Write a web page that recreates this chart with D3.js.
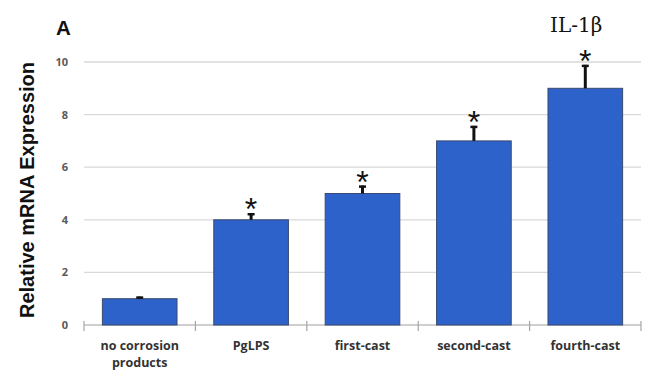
<!DOCTYPE html>
<html><head><meta charset="utf-8">
<script src="https://cdn.jsdelivr.net/npm/d3@7"></script>
<style>body{margin:0;background:#fff}svg{display:block}</style>
</head><body>
<svg id="c" width="648" height="371"></svg>
<script>
const categories = ["no corrosion products", "PgLPS", "first-cast", "second-cast", "fourth-cast"];
const values = [1.0, 4.0, 5.0, 7.0, 9.0];
const errors = [0.08, 0.25, 0.3, 0.57, 0.89];
const significant = [false, true, true, true, true];
const yTicks = [0, 2, 4, 6, 8, 10];

const svg = d3.select("#c");
const x = d3.scaleBand().domain(categories).range([84, 641]).paddingInner(0.33).paddingOuter(0.165);
const y = d3.scaleLinear().domain([0, 10]).range([325, 62]);

// gridlines
svg.append("g").selectAll("line").data(yTicks.filter(d => d > 0)).join("line")
  .attr("x1", 84).attr("x2", 641).attr("y1", d => y(d)).attr("y2", d => y(d))
  .attr("stroke", "#d9d9d9").attr("stroke-width", 1.3);

// y tick labels
svg.append("g").selectAll("text").data(yTicks).join("text")
  .attr("x", 68).attr("y", d => y(d)).attr("dy", "0.36em")
  .attr("text-anchor", "end").attr("fill", "#595959")
  .style("font", "bold 11px 'Open Sans', sans-serif").text(d => d);

// x axis
const xb = d3.scaleBand().domain(categories).range([84, 641]);
const g = svg.append("g").attr("transform", "translate(0,325)");
g.append("line").attr("x1", 84).attr("x2", 641).attr("stroke", "#bfbfbf").attr("stroke-width", 1.3);
const bounds = categories.map(c => xb(c)).concat([641]);
g.selectAll("line.t").data(bounds).join("line").attr("class", "t")
  .attr("x1", d => d).attr("x2", d => d).attr("y1", -4).attr("y2", 6)
  .attr("stroke", "#a6a6a6").attr("stroke-width", 1.2);

// bars
svg.append("g").selectAll("rect").data(values).join("rect")
  .attr("x", (d, i) => x(categories[i])).attr("width", x.bandwidth())
  .attr("y", d => y(d)).attr("height", d => y(0) - y(d))
  .attr("fill", "#2c62c9").attr("stroke", "#3a4a70").attr("stroke-width", 1);

// error bars
const eb = svg.append("g");
values.forEach((v, i) => {
  const cx = x(categories[i]) + x.bandwidth() / 2;
  const top = y(v + errors[i]);
  eb.append("line").attr("x1", cx).attr("x2", cx).attr("y1", y(v)).attr("y2", top)
    .attr("stroke", "#111").attr("stroke-width", 3);
  eb.append("line").attr("x1", cx - 3.5).attr("x2", cx + 3.5).attr("y1", top + 1).attr("y2", top + 1)
    .attr("stroke", "#111").attr("stroke-width", 2.5);
  if (significant[i]) {
    eb.append("text").attr("x", cx).attr("y", top + 7).attr("text-anchor", "middle")
      .attr("fill", "#111").style("font", "32px 'Liberation Sans', Arial, sans-serif").text("*");
  }
});

// x labels
const xl = svg.append("g");
categories.forEach((c, i) => {
  const cx = xb(c) + xb.bandwidth() / 2;
  const lines = c === "no corrosion products" ? ["no corrosion", "products"] : [c];
  lines.forEach((t, j) => {
    xl.append("text").attr("x", cx).attr("y", 350 + j * 17).attr("text-anchor", "middle")
      .attr("fill", "#333").style("font", "bold 12.5px 'Open Sans', sans-serif").text(t);
  });
});

// y axis title
svg.append("text").attr("transform", "translate(34,190) rotate(-90)").attr("text-anchor", "middle")
  .attr("fill", "#111").style("font", "bold 20px 'Liberation Sans', Arial, sans-serif").text("Relative mRNA Expression");

// panel letter
svg.append("text").attr("x", 56).attr("y", 35).attr("fill", "#111")
  .style("font", "bold 20.5px 'Liberation Sans', Arial, sans-serif").text("A");

// gene title
svg.append("text").attr("x", 550).attr("y", 32).attr("fill", "#111")
  .style("font", "20px 'DejaVu Serif', serif").text("IL-1β");
</script>
</body></html>
